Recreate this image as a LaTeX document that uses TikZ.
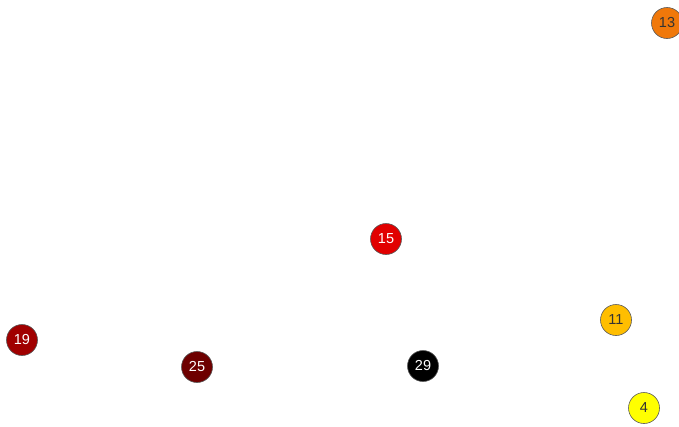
\documentclass[tikz,border=0pt]{standalone}
\usepackage{fontspec}
\setmainfont{Liberation Sans}
\begin{document}
\begin{tikzpicture}[x=1pt,y=-1pt,
  vert/.style={circle,draw=black!65,line width=0.6pt,minimum size=31pt,inner sep=0pt,font=\fontsize{14.5}{16}\selectfont}]
\useasboundingbox (0,0) rectangle (679,426);
\definecolor{c13}{RGB}{240,120,10}
\definecolor{c15}{RGB}{225,0,0}
\definecolor{c19}{RGB}{160,0,0}
\definecolor{c25}{RGB}{110,0,0}
\definecolor{c11}{RGB}{255,190,0}
\definecolor{c4}{RGB}{255,255,0}
\node[vert,fill=c13,text=black!80] (n13) at (667,23) {13};
\node[vert,fill=c15,text=white] (n15) at (386,239) {15};
\node[vert,fill=c19,text=white] (n19) at (22,340) {19};
\node[vert,fill=c25,text=white] (n25) at (197,367) {25};
\node[vert,fill=black,text=white] (n29) at (423,366) {29};
\node[vert,fill=c11,text=black!80] (n11) at (616,320) {11};
\node[vert,fill=c4,text=black!80] (n4) at (644,408) {4};
\end{tikzpicture}
\end{document}
